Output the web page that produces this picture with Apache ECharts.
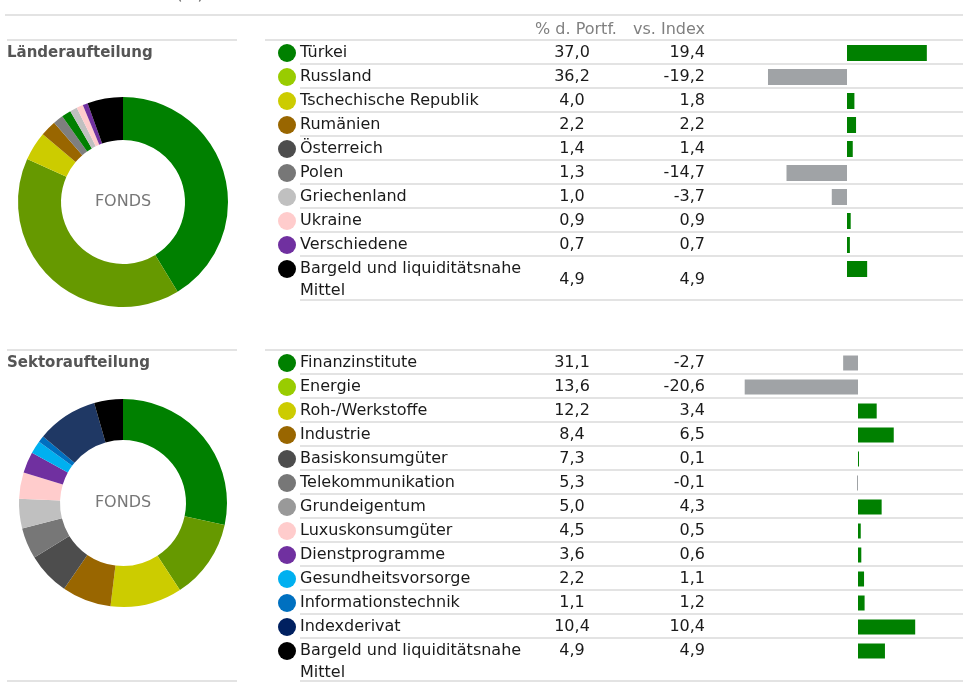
<!DOCTYPE html>
<html>
<head>
<meta charset="utf-8">
<script src="https://cdn.jsdelivr.net/npm/echarts@6/dist/echarts.min.js"></script>
<style>
  html, body { margin: 0; padding: 0; background: #fff; }
  #main { width: 963px; height: 686px; }
</style>
</head>
<body>
<div id="main"></div>
<script>
// Länderaufteilung
var laender = ['Türkei', 'Russland', 'Tschechische Republik', 'Rumänien', 'Österreich', 'Polen',
  'Griechenland', 'Ukraine', 'Verschiedene', 'Bargeld und liquiditätsnahe\nMittel'];
var laenderPortf = [37.0, 36.2, 4.0, 2.2, 1.4, 1.3, 1.0, 0.9, 0.7, 4.9];
var laenderIndex = [19.4, -19.2, 1.8, 2.2, 1.4, -14.7, -3.7, 0.9, 0.7, 4.9];
var laenderDot = ['#008000', '#99cc00', '#cccc00', '#996600', '#4d4d4d', '#777777', '#c0c0c0', '#ffcccc', '#7030a0', '#000000'];
var laenderPie = ['#008000', '#669900', '#cccc00', '#996600', '#7f7f7f', '#008000', '#c0c0c0', '#ffcccc', '#7030a0', '#000000'];

// Sektoraufteilung
var sektoren = ['Finanzinstitute', 'Energie', 'Roh-/Werkstoffe', 'Industrie', 'Basiskonsumgüter', 'Telekommunikation',
  'Grundeigentum', 'Luxuskonsumgüter', 'Dienstprogramme', 'Gesundheitsvorsorge', 'Informationstechnik',
  'Indexderivat', 'Bargeld und liquiditätsnahe\nMittel'];
var sektorPortf = [31.1, 13.6, 12.2, 8.4, 7.3, 5.3, 5.0, 4.5, 3.6, 2.2, 1.1, 10.4, 4.9];
var sektorIndex = [-2.7, -20.6, 3.4, 6.5, 0.1, -0.1, 4.3, 0.5, 0.6, 1.1, 1.2, 10.4, 4.9];
var sektorDot = ['#008000', '#99cc00', '#cccc00', '#996600', '#4d4d4d', '#777777', '#999999', '#ffcccc', '#7030a0', '#00b0f0', '#0070c0', '#002060', '#000000'];
var sektorPie = ['#008000', '#669900', '#cccc00', '#996600', '#4d4d4d', '#777777', '#c0c0c0', '#ffcccc', '#7030a0', '#00b0f0', '#0070c0', '#1f3864', '#000000'];

var headers = ['% d. Portf.', 'vs. Index'];
var titles = ['Länderaufteilung', 'Sektoraufteilung'];

var FONT = 'DejaVu Sans';
var TXT = '#1a1a1a';
var RULE = '#e3e3e3';
var ROW = 24;

var myChart = echarts.init(document.getElementById('main'));

var grids = [], xAxes = [], yAxes = [], series = [], graphic = [];

function fmt(v) { return v.toFixed(1).replace('.', ','); }

function hline(x1, x2, y) {
  graphic.push({ type: 'line', silent: true, shape: { x1: x1, y1: y, x2: x2, y2: y },
    style: { stroke: RULE, lineWidth: 2 } });
}

function labelGrid(left, top, h, cats, axisLabel) {
  var gi = grids.length;
  grids.push({ left: left, top: top, width: 1, height: h });
  xAxes.push({ type: 'value', gridIndex: gi, show: false });
  yAxes.push({ type: 'category', gridIndex: gi, inverse: true, data: cats,
    axisLine: { show: false }, axisTick: { show: false }, splitLine: { show: false },
    axisLabel: Object.assign({ interval: 0, fontFamily: FONT, fontSize: 16, color: TXT }, axisLabel) });
  return gi;
}

function addSection(names, portf, idx, dots, pieCols, top, pieY, radius, barMin, barMax, barLeft, barW, barH, lowLast, bottomY) {
  var n = names.length, h = n * ROW;
  var rich = {
    n: { fontFamily: FONT, fontSize: 16, color: TXT, lineHeight: 22, padding: [0, 0, 0, 4] },
    v: { fontFamily: FONT, fontSize: 16, color: TXT, lineHeight: 22 },
    g: { height: 22 },
    s: { width: 18, height: 22 }
  };
  dots.forEach(function (c, i) {
    rich['d' + i] = { width: 18, height: 18, borderRadius: 9, backgroundColor: c };
  });

  // names with colored dots
  labelGrid(300, top, h, names, {
    align: 'left', margin: 22, rich: rich,
    formatter: function (v, i) {
      var p = v.split('\n');
      if (p.length > 1) return '{g|}\n{d' + i + '|}{n|' + p[0] + '}\n{s|}{n|' + p[1] + '}';
      return '{d' + i + '|}{n|' + v + '}';
    }
  });
  // value columns
  var valFmt = function (v, i) {
    return (lowLast && i === n - 1) ? '{g|}\n{v|' + v + '}' : '{v|' + v + '}';
  };
  labelGrid(572, top, h, portf.map(fmt), { align: 'center', margin: 0, rich: rich, formatter: valFmt });
  labelGrid(705, top, h, idx.map(fmt), { align: 'right', margin: 0, rich: rich, formatter: valFmt });

  // bars
  var gi = grids.length;
  grids.push({ left: barLeft, top: top, width: barW, height: h });
  xAxes.push({ type: 'value', gridIndex: gi, min: barMin, max: barMax, show: false });
  yAxes.push({ type: 'category', gridIndex: gi, inverse: true, data: names, show: false });
  series.push({
    type: 'bar', xAxisIndex: gi, yAxisIndex: gi, data: idx, barWidth: barH, barMinHeight: 1,
    silent: true,
    itemStyle: { color: function (p) { return p.value >= 0 ? '#008000' : '#a0a3a6'; } }
  });

  // donut
  series.push({
    type: 'pie', center: [123, pieY], radius: radius, startAngle: 90, silent: true,
    label: { show: false }, labelLine: { show: false }, itemStyle: { borderWidth: 0 },
    data: names.map(function (nm, i) { return { name: nm, value: portf[i], itemStyle: { color: pieCols[i] } }; })
  });
  graphic.push({ type: 'text', x: 123, y: pieY, silent: true,
    style: { text: 'FONDS', textAlign: 'center', textVerticalAlign: 'middle', align: 'center', verticalAlign: 'middle',
      fill: '#777', fontFamily: FONT, fontSize: 16 } });

  // table rules
  hline(7, 237, top - 1);
  hline(265, 963, top - 1);
  for (var k = 1; k < n; k++) hline(300, 963, top + k * ROW - 1);
  hline(300, 963, bottomY);
}

addSection(laender, laenderPortf, laenderIndex, laenderDot, laenderPie, 41, 202, [62, 105], -26, 26, 740, 214, 16, true, 300);
addSection(sektoren, sektorPortf, sektorIndex, sektorDot, sektorPie, 351, 503, [63, 104], -22, 18, 737, 220, 15, false, 681);
hline(7, 237, 681);
hline(5, 963, 15);

// texts
graphic.push({ type: 'text', x: 190, y: -13, silent: true,
  style: { text: '(%)', textAlign: 'center', align: 'center', fill: '#555', fontFamily: FONT, fontSize: 16 } });
graphic.push({ type: 'text', x: 576, y: 30, silent: true,
  style: { text: headers[0], textAlign: 'center', textVerticalAlign: 'middle', align: 'center', verticalAlign: 'middle',
    fill: '#808080', fontFamily: FONT, fontSize: 16 } });
graphic.push({ type: 'text', x: 705, y: 30, silent: true,
  style: { text: headers[1], textAlign: 'right', textVerticalAlign: 'middle', align: 'right', verticalAlign: 'middle',
    fill: '#808080', fontFamily: FONT, fontSize: 16 } });
[53, 363].forEach(function (y, i) {
  graphic.push({ type: 'text', x: 7, y: y, silent: true,
    style: { text: titles[i], textVerticalAlign: 'middle', verticalAlign: 'middle',
      fill: '#555555', fontFamily: FONT, fontSize: 15, fontWeight: 'bold' } });
});

var option = {
  animation: false,
  grid: grids,
  xAxis: xAxes,
  yAxis: yAxes,
  series: series,
  graphic: graphic
};
myChart.setOption(option);
window.addEventListener('resize', function () { myChart.resize(); });
</script>
</body>
</html>
